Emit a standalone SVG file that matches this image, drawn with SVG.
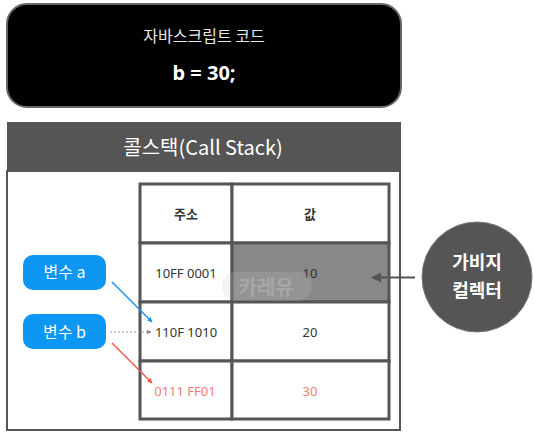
<svg xmlns="http://www.w3.org/2000/svg" width="534" height="437" viewBox="0 0 534 437">
<style>
.kr{font-family:"Noto Sans CJK KR","Noto Sans",sans-serif;}
.lat{font-family:"Noto Sans","Noto Sans CJK KR",sans-serif;}
.cell{fill:#ffffff;stroke:#555555;stroke-width:3;}
.tx{fill:#333333;font-size:13px;text-anchor:middle;}
.red{fill:#f47c74;}
.pill{fill:#0d96f2;}
.pt{fill:#ffffff;font-size:16px;text-anchor:middle;}
</style>
<defs>
<marker id="mBlue" viewBox="0 0 10 10" refX="9" refY="5" markerWidth="5" markerHeight="5" orient="auto" markerUnits="userSpaceOnUse"><path d="M0,0 L10,5 L0,10 z" fill="#1e90f0"/></marker>
<marker id="mRed" viewBox="0 0 10 10" refX="9" refY="5" markerWidth="5" markerHeight="5" orient="auto" markerUnits="userSpaceOnUse"><path d="M0,0 L10,5 L0,10 z" fill="#f05545"/></marker>
<marker id="mGray" viewBox="0 0 10 10" refX="9" refY="5" markerWidth="5" markerHeight="5" orient="auto" markerUnits="userSpaceOnUse"><path d="M0,0 L10,5 L0,10 z" fill="#888888"/></marker>
<marker id="mDark" viewBox="0 0 10 10" refX="9" refY="5" markerWidth="12" markerHeight="10" orient="auto" markerUnits="userSpaceOnUse"><path d="M0,0 L10,5 L0,10 z" fill="#555555"/></marker>
</defs>
<rect width="534" height="437" fill="#ffffff"/>

<g id="code">
<rect x="7" y="4" width="394" height="103" rx="20" fill="#000000" stroke="#666666" stroke-width="2"/>
<text x="204" y="42" class="kr" font-size="16" fill="#e8e8e8" text-anchor="middle">자바스크립트 코드</text>
<text x="204" y="80" class="lat" font-size="20" font-weight="bold" fill="#ffffff" text-anchor="middle">b = 30;</text>
</g>

<g id="callstack">
<rect x="7" y="171" width="393" height="259" fill="#ffffff" stroke="#555555" stroke-width="2"/>
<rect x="7" y="122" width="394" height="49" fill="#555555"/>
<text x="203" y="155" class="kr" font-size="20" fill="#ffffff" text-anchor="middle">콜스택(Call Stack)</text>
</g>

<g id="table">
<rect class="cell" x="140" y="184" width="92" height="59"/>
<rect class="cell" x="232" y="184" width="157" height="59"/>
<rect class="cell" x="140" y="243" width="92" height="59"/>
<rect x="232" y="243" width="157" height="59" fill="#888888" stroke="#555555" stroke-width="3"/>
<rect class="cell" x="140" y="302" width="92" height="59"/>
<rect class="cell" x="232" y="302" width="157" height="59"/>
<rect class="cell" x="140" y="361" width="92" height="58"/>
<rect class="cell" x="232" y="361" width="157" height="58"/>
<text class="kr tx" x="186" y="219" font-size="12" font-weight="bold">주소</text>
<text class="kr tx" x="310" y="219" font-size="12" font-weight="bold">값</text>
<text class="lat tx" x="186" y="278">10FF 0001</text>
<text class="lat tx" x="310" y="278">10</text>
<text class="lat tx" x="186" y="337">110F 1010</text>
<text class="lat tx" x="310" y="337">20</text>
<text class="lat tx red" x="185" y="396">0111 FF01</text>
<text class="lat tx red" x="310" y="396">30</text>
</g>

<g id="watermark">
<rect x="222" y="272" width="90" height="29" rx="14.5" fill="rgba(200,200,200,0.2)"/>
<text x="266" y="295" class="kr" font-size="20" font-weight="bold" fill="rgba(205,205,205,0.35)" text-anchor="middle">카레유</text>
</g>

<g id="var-a">
<rect class="pill" x="23" y="255" width="83" height="35" rx="10"/>
<text class="kr pt" x="64.5" y="278">변수 a</text>
</g>
<g id="var-b">
<rect class="pill" x="23" y="314" width="83" height="35" rx="10"/>
<text class="kr pt" x="64.5" y="338">변수 b</text>
</g>

<g id="gc">
<circle cx="477" cy="277" r="55" fill="#555555" stroke="#7a7a7a" stroke-width="1"/>
<text x="477" y="269" class="kr" font-size="18" font-weight="bold" fill="#ffffff" text-anchor="middle">가비지</text>
<text x="477" y="297" class="kr" font-size="18" font-weight="bold" fill="#ffffff" text-anchor="middle">컬렉터</text>
</g>

<g id="connectors">
<line x1="112" y1="282" x2="152" y2="322" stroke="#1e90f0" stroke-width="1.5" marker-end="url(#mBlue)"/>
<line x1="110" y1="332" x2="151" y2="332" stroke="#999999" stroke-width="1" stroke-dasharray="2,2" marker-end="url(#mGray)"/>
<line x1="112" y1="343" x2="152" y2="383" stroke="#f05545" stroke-width="1.5" marker-end="url(#mRed)"/>
<line x1="415" y1="277.5" x2="372" y2="277.5" stroke="#555555" stroke-width="2" marker-end="url(#mDark)"/>
</g>
</svg>
